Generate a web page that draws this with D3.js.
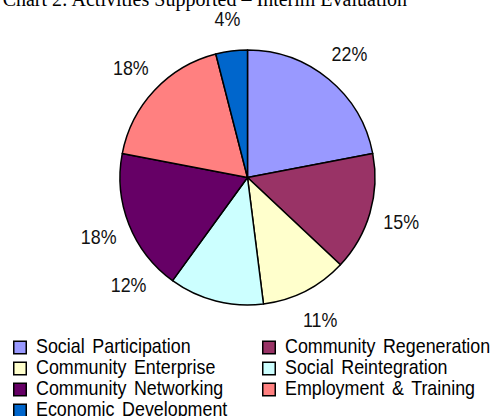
<!DOCTYPE html>
<html>
<head>
<meta charset="utf-8">
<script src="https://cdn.jsdelivr.net/npm/d3@7"></script>
<style>
  body { margin: 0; background: #fff; }
  svg { display: block; }
</style>
</head>
<body>
<div id="chart"></div>
<script>
// data
var categories = ["Social Participation", "Community Regeneration", "Community Enterprise",
                  "Social Reintegration", "Community Networking", "Employment & Training",
                  "Economic Development"];
var values = [22, 15, 11, 12, 18, 18, 4];
var colours = ["#9999FF", "#993366", "#FFFFCC", "#CCFFFF", "#660066", "#FF8080", "#0066CC"];
var title = "Chart 2: Activities Supported \u2013 Interim Evaluation";

var width = 495, height = 416;
var cx = 247.5, cy = 177.5, radius = 127.5;
var sans = "'Liberation Sans', Arial, sans-serif";

var svg = d3.select("#chart").append("svg")
  .attr("width", width)
  .attr("height", height);

//No narrow font installed: squeeze Liberation Sans to the width of the original legend text
var probe = svg.append("text")
  .style("font-family", sans)
  .style("font-size", "20px")
  .text(categories[0]);
var squeeze = 152 / probe.node().getComputedTextLength();
probe.remove();

//Title (cut off at the top in the original)
svg.append("text")
  .attr("x", 407)
  .attr("y", 6)
  .attr("text-anchor", "end")
  .style("font-family", "'Liberation Serif', 'Times New Roman', serif")
  .style("font-size", "20px")
  .attr("fill", "#000")
  .text(title);

var pie = d3.pie().sort(null).value(function(d){ return d; });
var arcs = pie(values);
var arc = d3.arc().innerRadius(0).outerRadius(radius);

var g = svg.append("g")
  .attr("transform", "translate(" + cx + "," + cy + ")");

g.selectAll("path")
  .data(arcs)
  .enter()
  .append("path")
  .attr("d", arc)
  .attr("fill", function(d, i){ return colours[i]; })
  .attr("stroke", "#000")
  .attr("stroke-width", 1.5)
  .attr("stroke-linejoin", "round");

//Percentage labels outside the pie
var labelR = 160;
// the 12% label was moved up in the original to clear the legend
var labelAngle = { 3: 228 * Math.PI / 180 };
function labelPos(d, i) {
  var a = labelAngle[i] !== undefined ? labelAngle[i] : (d.startAngle + d.endAngle) / 2;
  return [labelR * Math.sin(a), -labelR * Math.cos(a)];
}
g.selectAll("text.pct")
  .data(arcs)
  .enter()
  .append("text")
  .attr("class", "pct")
  .attr("transform", function(d, i){
    var p = labelPos(d, i);
    return "translate(" + p[0] + "," + p[1] + ") scale(" + squeeze + ",1)";
  })
  .attr("dy", "0.36em")
  .attr("text-anchor", "middle")
  .style("font-family", sans)
  .style("font-size", "20px")
  .attr("fill", "#111")
  .text(function(d){ return d3.format(".0f")(d.data) + "%"; });

//Legend
var colX = d3.scaleOrdinal().domain([0, 1]).range([13, 262]);
var rowY = d3.scaleLinear().domain([0, 1]).range([340.5, 361.5]);

var legend = svg.append("g").selectAll("g")
  .data(categories)
  .enter()
  .append("g")
  .attr("transform", function(d, i){
    return "translate(" + colX(i % 2) + "," + rowY(Math.floor(i / 2)) + ")";
  });

legend.append("rect")
  .attr("x", 0.75)
  .attr("y", 0.75)
  .attr("width", 12.5)
  .attr("height", 12.5)
  .attr("fill", function(d, i){ return colours[i]; })
  .attr("stroke", "#000")
  .attr("stroke-width", 1.5);

legend.append("text")
  .attr("transform", "translate(23,12.5) scale(" + squeeze + ",1)")
  .style("font-family", sans)
  .style("font-size", "20px")
  .style("word-spacing", "3px")
  .attr("fill", "#000")
  .text(function(d){ return d; });
</script>
</body>
</html>
